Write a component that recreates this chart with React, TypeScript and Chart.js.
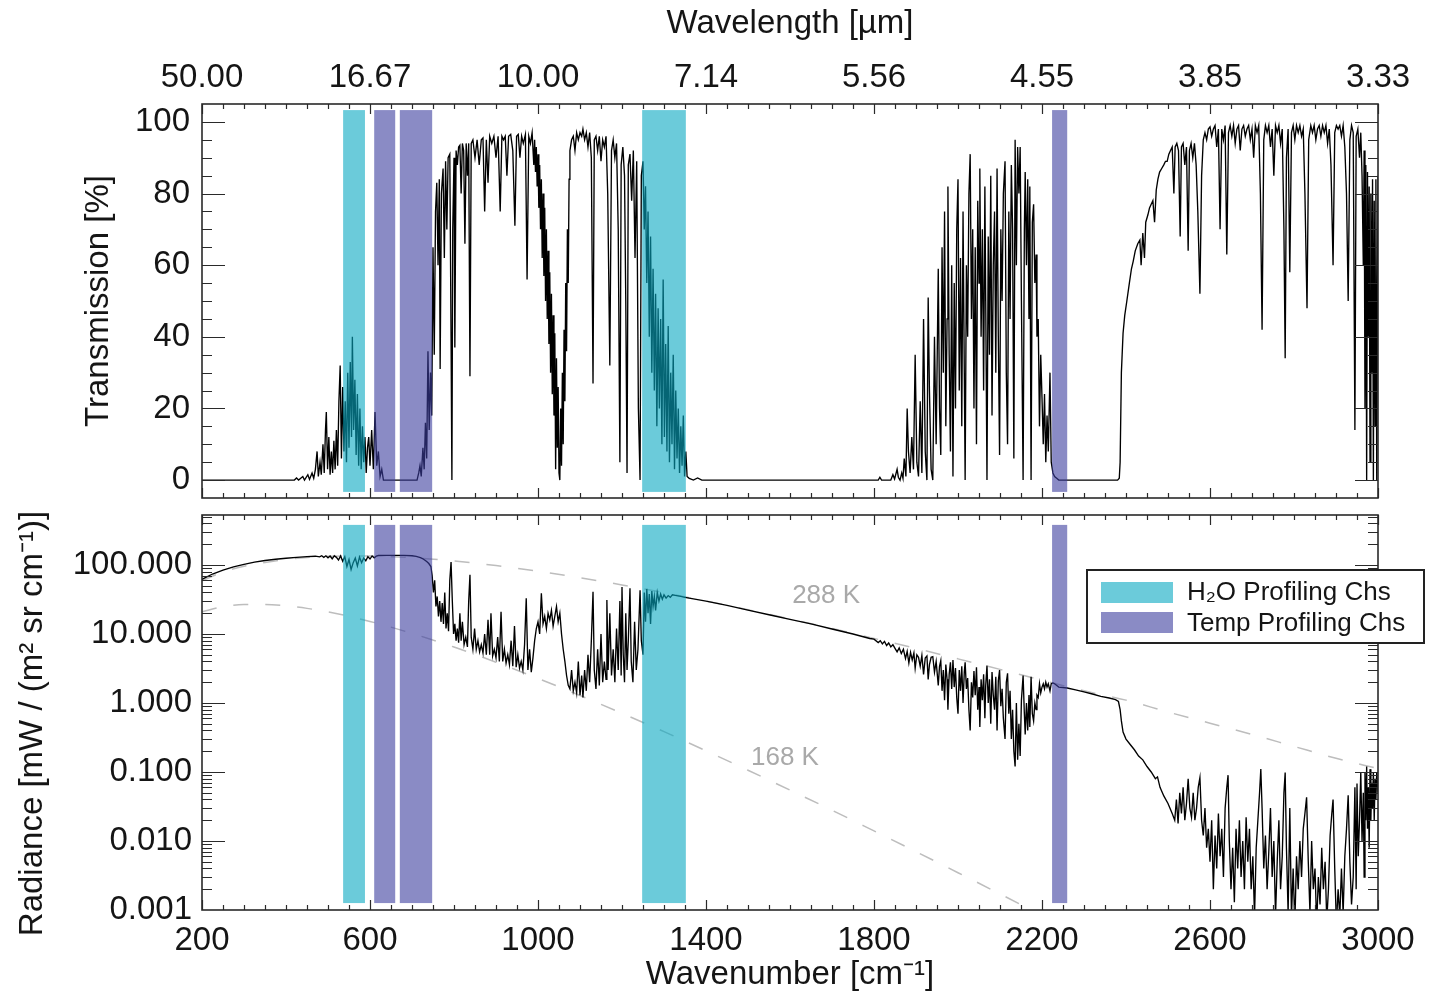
import React, { useEffect, useRef } from "react";
import { Chart, registerables } from "chart.js";

Chart.register(...registerables);

type Pair = [number, number];

const FONT = "'Liberation Sans', Arial, Helvetica, sans-serif";

// ---------- axis ticks / labels ----------
const X_TICKS = [200, 600, 1000, 1400, 1800, 2200, 2600, 3000];
const WAVELENGTH_LABELS = ["50.00", "16.67", "10.00", "7.14", "5.56", "4.55", "3.85", "3.33"];
const T_TICKS = [0, 20, 40, 60, 80, 100];
const R_TICKS = [0.001, 0.01, 0.1, 1, 10, 100];
const R_TICK_LABELS = ["0.001", "0.010", "0.100", "1.000", "10.000", "100.000"];
const RADIANCE_TITLE = "Radiance [mW / (m\u00b2 sr cm\u207b\u00b9)]";

// ---------- channel bands (wavenumber ranges, cm-1) ----------
const H2O_BANDS: Pair[] = [[536, 588], [1248, 1352]];
const TEMP_BANDS: Pair[] = [[610, 660], [671, 748], [2224, 2260]];
const LEGEND_LABELS = ["H\u2082O Profiling Chs", "Temp Profiling Chs"];

// ---------- transmission [%] vs wavenumber ----------
const TRANS_FAR_IR: Pair[] = [
  [200, 0], [300, 0], [400, 0], [420, 0], [425, 0.6], [430, 0], [440, 1], [444, 0], [452, 1.5], [456, 0.2],
  [462, 2], [466, 0.5], [470, 3], [474, 8], [477, 1], [481, 5], [484, 1.5], [488, 10], [491, 2], [494, 14],
  [496, 19], [499, 3], [502, 12], [505, 1.5], [508, 8], [511, 2], [514, 11], [517, 3], [520, 14], [523, 4],
  [526, 22], [529, 32], [532, 6], [535, 26], [538, 8], [541, 22], [544, 5], [547, 30], [550, 9], [553, 33],
  [556, 12], [558, 40], [561, 14], [564, 28], [567, 7], [570, 24], [573, 4], [576, 20], [579, 3], [582, 15],
  [585, 5], [588, 12], [591, 2], [594, 9], [597, 12], [600, 4], [604, 14], [608, 3], [612, 19], [616, 4],
  [620, 8], [624, 1], [628, 3], [632, 0], [712, 0],
];
const TRANS_WINDOW: Pair[] = [
  [716, 2], [719, 4], [722, 1], [726, 9], [729, 3], [732, 16], [735, 6], [738, 36], [741, 14], [744, 30],
  [747, 18], [750, 65], [753, 35], [756, 75], [759, 83], [762, 60], [765, 84], [767, 31], [770, 80], [774, 87],
  [777, 62], [780, 89], [783, 70], [786, 90], [790, 91], [793, 40], [795, 0], [797, 70], [800, 90], [802, 37],
  [805, 92], [808, 88], [811, 93], [814, 93.5], [817, 80], [820, 94], [823, 92], [826, 66], [829, 94], [832, 85],
  [835, 94], [838, 29], [841, 94], [845, 95], [850, 90], [855, 95], [860, 88], [865, 95], [869, 95.5], [873, 75],
  [877, 95], [881, 83], [885, 96], [890, 94], [895, 96], [900, 90], [905, 96], [910, 75], [914, 96], [918, 95],
  [922, 96], [926, 85], [930, 96], [935, 96.5], [940, 92], [945, 71], [949, 96], [953, 96.5], [957, 90], [961, 96],
  [965, 94], [970, 96.5], [974, 56], [978, 96], [982, 94], [986, 97], [990, 88], [992, 95], [994, 86], [996, 93],
  [998, 82], [1000, 91], [1002, 76], [1004, 88], [1006, 70], [1008, 84], [1010, 62], [1012, 80], [1014, 57], [1016, 76],
  [1018, 50], [1020, 70], [1022, 45], [1024, 64], [1026, 38], [1028, 58], [1030, 30], [1032, 52], [1034, 24], [1036, 46],
  [1038, 18], [1040, 41], [1042, 3], [1044, 34], [1046, 9], [1048, 26], [1050, 2], [1052, 0], [1054, 20], [1056, 4],
  [1058, 30], [1060, 10], [1062, 42], [1064, 22], [1066, 55], [1068, 36], [1070, 70], [1072, 55], [1074, 84], [1076, 92],
  [1080, 95], [1084, 96], [1088, 92], [1092, 97], [1096, 95], [1100, 97], [1104, 96], [1107, 98],
  [1111, 95], [1115, 97], [1119, 93], [1123, 97], [1127, 90], [1131, 27], [1134, 95], [1138, 96], [1142, 92], [1146, 96],
  [1150, 89], [1154, 95], [1158, 93], [1162, 96], [1166, 80], [1171, 32], [1175, 92], [1179, 95], [1183, 90], [1187, 94],
  [1191, 70], [1195, 5], [1198, 88], [1202, 93], [1206, 85], [1209, 50], [1212, 2], [1215, 88], [1219, 91], [1223, 78],
  [1227, 92], [1231, 62], [1235, 89], [1239, 20], [1243, 0], [1246, 85], [1250, 89],
];
const TRANS_H2O: Pair[] = [
  [1253, 70], [1256, 82], [1259, 55], [1262, 75], [1265, 40], [1268, 68], [1271, 30], [1274, 59], [1277, 25], [1280, 52],
  [1283, 15], [1286, 48], [1289, 20], [1292, 45], [1295, 10], [1298, 56], [1301, 12], [1304, 38], [1307, 8], [1310, 43],
  [1313, 5], [1316, 30], [1319, 10], [1322, 35], [1325, 3], [1328, 25], [1331, 6], [1334, 20], [1337, 2], [1340, 15],
  [1343, 4], [1346, 18], [1349, 1], [1352, 8], [1355, 1], [1360, 0.5], [1370, 0], [1380, 0.6], [1390, 0], [1500, 0],
  [1700, 0], [1810, 0], [1814, 0.8], [1818, 0], [1840, 0], [1845, 1.5], [1849, 0.3], [1855, 3], [1858, 0.8],
];
const TRANS_CO: Pair[] = [
  [1862, 0], [1866, 2], [1869, 0.5], [1872, 6], [1876, 1], [1879, 20], [1882, 8], [1886, 2], [1890, 12], [1894, 3],
  [1898, 35], [1902, 5], [1906, 1], [1910, 22], [1914, 2], [1918, 45], [1922, 8], [1926, 0], [1929, 51], [1932, 25],
  [1936, 3], [1940, 0], [1944, 40], [1948, 10], [1953, 59], [1956, 20], [1959, 7], [1962, 65], [1965, 30], [1968, 75],
  [1971, 15], [1974, 45], [1976, 82], [1979, 35], [1982, 8], [1985, 60], [1988, 1], [1991, 55], [1994, 20], [1997, 70],
  [2000, 84], [2003, 25], [2006, 62], [2009, 15], [2012, 75], [2015, 30], [2017, 0], [2020, 60], [2023, 40], [2026, 80],
  [2029, 91], [2032, 45], [2035, 70], [2038, 20], [2041, 65], [2044, 10], [2047, 78], [2050, 55], [2052, 87], [2055, 40],
  [2058, 70], [2061, 25], [2064, 82], [2066, 50], [2069, 0], [2072, 68], [2075, 35], [2078, 85], [2081, 18], [2084, 60],
  [2087, 75], [2090, 30], [2093, 87], [2096, 40], [2099, 7], [2102, 70], [2105, 50], [2108, 80], [2112, 89], [2115, 30],
  [2118, 10], [2121, 75], [2124, 45], [2127, 88], [2130, 70], [2133, 6], [2136, 95], [2139, 60], [2142, 93], [2145, 80],
  [2148, 93], [2151, 50], [2155, 0], [2158, 70], [2160, 86], [2163, 60], [2166, 84], [2169, 45], [2171, 82], [2174, 0],
  [2177, 72], [2180, 77], [2183, 55], [2186, 63], [2188, 40], [2191, 45], [2194, 15], [2197, 35], [2200, 23], [2203, 10],
  [2206, 24], [2209, 5], [2212, 18], [2215, 8], [2219, 30], [2222, 5], [2226, 2], [2230, 1], [2235, 0.5], [2240, 0],
];
const TRANS_SWIR: Pair[] = [
  [2380, 0], [2384, 0.5], [2386, 5], [2389, 30], [2393, 41], [2397, 46], [2402, 50], [2408, 55], [2413, 59], [2417, 61],
  [2422, 64], [2428, 66], [2433, 67], [2436, 60], [2440, 69], [2444, 62], [2447, 72], [2452, 74], [2456, 76], [2460, 77],
  [2464, 78], [2468, 72], [2472, 81], [2476, 84], [2480, 86], [2485, 87], [2490, 88], [2494, 89], [2498, 89], [2502, 91],
  [2506, 92], [2510, 93], [2514, 80], [2517, 93], [2521, 94], [2525, 92], [2529, 68], [2532, 93], [2536, 94], [2540, 88],
  [2544, 93], [2548, 64], [2551, 92], [2555, 94], [2559, 90], [2563, 94], [2567, 88], [2571, 75], [2576, 52], [2580, 85],
  [2584, 95], [2588, 97], [2592, 95], [2596, 98], [2600, 98.6], [2604, 96], [2608, 98], [2612, 99], [2616, 93], [2620, 98],
  [2624, 70], [2628, 98], [2632, 95], [2636, 99], [2640, 63], [2644, 97], [2648, 99], [2652, 96], [2656, 99], [2660, 94],
  [2664, 98], [2668, 99], [2672, 92], [2676, 98], [2680, 99], [2684, 96], [2688, 98], [2692, 99], [2696, 95], [2700, 98],
  [2704, 90], [2708, 99], [2712, 97], [2716, 99], [2720, 80], [2724, 42], [2728, 95], [2732, 99], [2736, 97], [2740, 99],
  [2744, 93], [2748, 98], [2752, 85], [2756, 99], [2760, 97], [2764, 99], [2768, 94], [2772, 98], [2776, 70], [2779, 34],
  [2782, 90], [2786, 98], [2790, 58], [2794, 97], [2798, 99], [2802, 95], [2806, 99], [2810, 97], [2814, 99], [2818, 96],
  [2822, 98], [2826, 80], [2831, 48], [2835, 95], [2840, 99], [2844, 97], [2848, 99], [2852, 95], [2856, 98], [2860, 99],
  [2864, 96], [2868, 99], [2872, 97], [2876, 99], [2880, 94], [2884, 98], [2888, 88], [2893, 60], [2897, 97], [2901, 99],
  [2905, 98], [2909, 99], [2913, 96], [2917, 99], [2921, 93], [2925, 80], [2929, 50], [2933, 95], [2937, 99], [2941, 97],
  [2945, 14], [2948, 96], [2952, 98], [2956, 90], [2959, 97], [2962, 85], [2965, 60], [2967, 92], [2969, 20], [2971, 88],
  [2973, 0], [2975, 86], [2977, 40], [2979, 82], [2981, 5], [2983, 80], [2985, 30], [2987, 84], [2989, 0], [2991, 78],
  [2993, 15], [2995, 84], [2997, 0], [3000, 85],
];

// ---------- radiance [mW/(m2 sr cm-1)] vs wavenumber ----------
const RAD_FAR_IR: Pair[] = [
  [200, 62], [225, 74], [250, 84], [275, 94], [300, 102], [325, 110], [350, 116], [375, 121], [400, 125], [425, 129],
  [450, 132], [470, 134], [480, 131], [485, 136], [490, 129], [495, 136], [500, 127], [505, 135], [510, 123], [515, 136],
  [520, 129], [525, 118], [530, 135], [535, 113], [540, 132], [545, 95], [550, 120], [555, 86], [560, 108], [565, 126],
  [570, 97], [575, 130], [580, 108], [585, 126], [590, 115], [595, 132], [600, 122], [605, 135], [610, 127], [615, 134],
  [620, 137], [640, 138], [660, 138], [680, 138], [700, 136], [710, 133], [720, 128], [725, 124], [730, 118], [735, 112],
  [740, 105],
];
const RAD_WINDOW: Pair[] = [
  [745, 95], [748, 70], [751, 40], [754, 60], [757, 25], [760, 35], [763, 18], [766, 30], [769, 15], [772, 28],
  [775, 14], [778, 40], [781, 12], [784, 20], [787, 11], [790, 60], [793, 110], [796, 30], [799, 10], [802, 14],
  [805, 8], [808, 12], [811, 7.5], [814, 20], [817, 8], [820, 15], [824, 7], [828, 9], [832, 6.5], [835, 30],
  [838, 72], [841, 9], [845, 6], [849, 12], [853, 6], [857, 8], [861, 5.5], [865, 7], [869, 5.3], [873, 10],
  [877, 5], [881, 16], [885, 5], [888, 20], [892, 4.8], [896, 6], [900, 4.5], [904, 9], [908, 4], [912, 21],
  [916, 4], [920, 6], [924, 3.8], [928, 5], [932, 3.6], [936, 8], [940, 3.4], [944, 13], [948, 3.3], [952, 5],
  [956, 3.2], [960, 4], [964, 3], [968, 7], [972, 33], [976, 3], [980, 6], [984, 2.8], [988, 4.5], [992, 8],
  [996, 12], [1000, 15], [1004, 10], [1008, 39], [1012, 14], [1016, 18], [1020, 12], [1024, 20], [1028, 16], [1032, 22],
  [1036, 13], [1040, 18], [1044, 25], [1048, 15], [1052, 20], [1056, 10], [1060, 6], [1064, 4], [1068, 2.5], [1072, 1.8],
  [1076, 1.6], [1080, 3], [1084, 1.5], [1088, 2], [1092, 1.4], [1096, 4], [1100, 1.3], [1104, 2.5], [1107, 1.2], [1111, 3],
  [1115, 1.5], [1119, 5], [1123, 2], [1127, 8], [1131, 41], [1134, 3], [1138, 1.6], [1142, 6], [1146, 1.8], [1150, 10],
  [1154, 2], [1158, 4], [1162, 2.2], [1164, 31], [1167, 3], [1171, 20], [1175, 2.5], [1179, 6], [1183, 2], [1187, 12],
  [1191, 3], [1195, 30], [1198, 2.5], [1200, 48], [1203, 5], [1206, 2], [1209, 20], [1212, 3], [1215, 8], [1219, 46],
  [1222, 4], [1226, 2], [1230, 15], [1234, 3], [1238, 6], [1243, 43], [1246, 8], [1250, 5],
];
const RAD_MID: Pair[] = [
  [1253, 40], [1256, 15], [1259, 45], [1262, 20], [1265, 38], [1268, 14], [1271, 42], [1274, 25], [1277, 35], [1280, 22],
  [1284, 40], [1288, 30], [1292, 38], [1296, 32], [1300, 37], [1305, 33], [1310, 36], [1315, 34], [1320, 37], [1330, 36],
  [1340, 35], [1350, 34], [1360, 33], [1400, 30], [1450, 26], [1500, 22.2], [1550, 19], [1600, 16.3], [1650, 14], [1700, 11.8],
  [1750, 10], [1790, 8.6], [1800, 8.4],
];
const RAD_CO: Pair[] = [
  [1810, 7.5], [1815, 8.0], [1820, 7.2], [1825, 7.8], [1830, 6.8], [1835, 7.4], [1840, 6.5], [1845, 7.0], [1850, 6.2], [1855, 5.5],
  [1860, 6.3], [1865, 5.2], [1870, 6.0], [1875, 4.4], [1879, 5.6], [1883, 3.8], [1887, 5.4], [1891, 4.2], [1895, 5.3], [1898, 3.2],
  [1902, 5.0], [1906, 4.6], [1910, 3.4], [1914, 4.9], [1918, 2.6], [1922, 4.5], [1926, 4.8], [1929, 2.2], [1932, 3.6], [1936, 4.6],
  [1940, 4.7], [1944, 2.8], [1948, 4.0], [1953, 1.8], [1956, 3.4], [1959, 4.1], [1962, 1.5], [1965, 3.0], [1968, 1.1], [1971, 3.6],
  [1974, 2.2], [1976, 0.8], [1979, 2.6], [1982, 3.9], [1985, 1.6], [1988, 4.2], [1991, 1.7], [1994, 3.2], [1997, 1.2], [2000, 0.7],
  [2003, 3.0], [2006, 1.5], [2009, 3.4], [2012, 1.0], [2015, 2.8], [2017, 3.9], [2020, 1.6], [2023, 2.3], [2026, 0.8], [2029, 0.4],
  [2032, 2.0], [2035, 1.2], [2038, 2.9], [2041, 1.3], [2044, 3.3], [2047, 0.8], [2050, 1.7], [2052, 0.45], [2055, 2.2], [2058, 1.1],
  [2061, 2.6], [2064, 0.6], [2066, 1.8], [2069, 3.5], [2072, 1.0], [2075, 2.2], [2078, 0.5], [2081, 2.8], [2084, 1.3], [2087, 0.8],
  [2090, 2.4], [2093, 0.4], [2096, 2.1], [2099, 3.0], [2102, 0.9], [2105, 1.6], [2108, 0.6], [2112, 0.3], [2115, 2.0], [2118, 2.7],
  [2121, 0.7], [2124, 1.5], [2127, 0.3], [2130, 0.8], [2133, 0.2], [2136, 0.12], [2139, 1.0], [2142, 0.15], [2145, 0.5], [2148, 0.17],
  [2151, 1.1], [2155, 2.5], [2158, 0.7], [2160, 0.35], [2163, 1.0], [2166, 0.4], [2169, 1.3], [2171, 0.45], [2174, 2.4], [2177, 0.7],
  [2180, 0.55], [2183, 1.0], [2186, 0.8], [2188, 1.3], [2191, 1.2], [2194, 1.9], [2197, 1.4], [2200, 1.7], [2203, 1.9], [2206, 1.6],
  [2209, 2.0], [2212, 1.7], [2215, 1.9], [2219, 1.5], [2222, 1.9], [2226, 1.95], [2230, 1.9], [2240, 1.7], [2260, 1.65], [2280, 1.55],
  [2300, 1.45], [2320, 1.35], [2340, 1.25], [2360, 1.18], [2375, 1.12], [2382, 1.05],
];
const RAD_SWIR: Pair[] = [
  [2386, 0.8], [2389, 0.55], [2393, 0.38], [2400, 0.3], [2410, 0.25], [2420, 0.21], [2430, 0.17], [2440, 0.15], [2450, 0.12], [2460, 0.1],
  [2470, 0.08], [2475, 0.085], [2481, 0.06], [2490, 0.045], [2500, 0.035], [2510, 0.025], [2516, 0.02], [2520, 0.04], [2524, 0.018], [2528, 0.05],
  [2532, 0.025], [2536, 0.06], [2540, 0.02], [2544, 0.035], [2548, 0.08], [2552, 0.03], [2556, 0.022], [2560, 0.05], [2564, 0.02], [2568, 0.03],
  [2572, 0.06], [2576, 0.083], [2580, 0.02], [2584, 0.012], [2588, 0.03], [2592, 0.008], [2596, 0.015], [2600, 0.005], [2604, 0.02], [2608, 0.002],
  [2612, 0.012], [2616, 0.004], [2620, 0.025], [2624, 0.006], [2628, 0.015], [2632, 0.003], [2636, 0.03], [2640, 0.06], [2643, 0.09], [2646, 0.01],
  [2650, 0.002], [2654, 0.008], [2658, 0.0013], [2662, 0.015], [2666, 0.004], [2670, 0.02], [2674, 0.003], [2678, 0.01], [2682, 0.002], [2686, 0.022],
  [2690, 0.005], [2694, 0.015], [2698, 0.002], [2702, 0.006], [2706, 0.0008], [2710, 0.008], [2714, 0.02], [2718, 0.05], [2721, 0.11], [2724, 0.03],
  [2728, 0.004], [2732, 0.012], [2736, 0.002], [2740, 0.007], [2744, 0.03], [2748, 0.003], [2752, 0.01], [2756, 0.0008], [2760, 0.005], [2764, 0.02],
  [2768, 0.002], [2772, 0.006], [2776, 0.05], [2779, 0.098], [2782, 0.008], [2786, 0.0009], [2790, 0.03], [2794, 0.0008], [2798, 0.004], [2802, 0.0006],
  [2806, 0.006], [2810, 0.002], [2814, 0.01], [2818, 0.003], [2822, 0.015], [2826, 0.025], [2830, 0.043], [2834, 0.005], [2838, 0.0009], [2842, 0.01],
  [2846, 0.002], [2850, 0.004], [2854, 0.0006], [2858, 0.003], [2862, 0.0012], [2866, 0.008], [2870, 0.002], [2874, 0.005], [2878, 0.0007], [2882, 0.002],
  [2886, 0.012], [2890, 0.025], [2893, 0.04], [2897, 0.004], [2901, 0.0006], [2905, 0.002], [2909, 0.0008], [2913, 0.004], [2917, 0.0009], [2921, 0.006],
  [2925, 0.015], [2929, 0.046], [2933, 0.005], [2937, 0.0012], [2941, 0.003], [2945, 0.06], [2948, 0.002], [2950, 0.068], [2953, 0.006], [2956, 0.02],
  [2959, 0.1], [2962, 0.01], [2965, 0.05], [2967, 0.003], [2969, 0.1], [2971, 0.02], [2973, 0.12], [2975, 0.015], [2977, 0.06], [2979, 0.008],
  [2981, 0.11], [2983, 0.02], [2985, 0.07], [2987, 0.03], [2989, 0.1], [2991, 0.02], [2993, 0.08], [2995, 0.04], [2997, 0.1], [3000, 0.05],
];

// ---------- blackbody reference curves (dashed) ----------
const BB_288K: Pair[] = [
  [200, 59], [250, 79], [300, 96], [350, 109], [400, 120], [450, 128], [500, 133.4], [550, 135.5], [600, 135.2], [650, 132],
  [700, 127.6], [800, 114.2], [900, 97.9], [1000, 81.1], [1100, 65.4], [1200, 51.4], [1300, 39.6], [1400, 30], [1500, 22.4], [1600, 16.5],
  [1700, 12], [1800, 8.63], [1900, 6.17], [2000, 4.36], [2100, 3.07], [2200, 2.14], [2300, 1.5], [2400, 1.1], [2500, 0.74], [2600, 0.51],
  [2700, 0.35], [2800, 0.235], [2900, 0.158], [3000, 0.112],
];
const BB_168K: Pair[] = [
  [200, 21], [250, 24.8], [300, 26.7], [350, 26.8], [400, 25.6], [450, 23.5], [500, 20.9], [600, 15.2], [700, 10.2], [800, 6.46],
  [900, 3.9], [1000, 2.27], [1100, 1.285], [1200, 0.708], [1300, 0.384], [1400, 0.203], [1500, 0.106], [1600, 0.0546], [1700, 0.0279], [1800, 0.014],
  [1900, 0.007], [2000, 0.00347], [2100, 0.00171], [2200, 0.00083], [2300, 0.0004],
];
const BB_LABELS = [
  { text: "288 K", x: 1686, y: 35.5 },
  { text: "168 K", x: 1588, y: 0.158 },
];

const TRANS_SEGMENTS = [TRANS_FAR_IR, TRANS_WINDOW, TRANS_H2O, TRANS_CO, TRANS_SWIR];
const RAD_SEGMENTS = [RAD_FAR_IR, RAD_WINDOW, RAD_MID, RAD_CO, RAD_SWIR];

// ---------- styles ----------
const H2O_FILL = "rgba(8,168,193,0.6)";
const TEMP_FILL = "rgba(60,62,158,0.6)";
const TEXT_COLOR = "#151515";
const FRAME_COLOR = "#2a2a2a";
const BB_COLOR = "#bdbdbd";
const TICK_FONT = { family: FONT, size: 33 };
const TITLE_FONT = { family: FONT, size: 33 };

const toXY = (segs: Pair[][]) => segs.flat().map(([x, y]) => ({ x, y }));

type YTick = { v: number; major: boolean };

function linearYTicks(): YTick[] {
  const out: YTick[] = [];
  for (let v = 0; v <= 100; v += 5) out.push({ v, major: v % 20 === 0 });
  return out;
}
function logYTicks(max: number): YTick[] {
  const out: YTick[] = [];
  R_TICKS.forEach((d) => {
    out.push({ v: d, major: true });
    for (let k = 2; k <= 9; k++) if (k * d <= max) out.push({ v: k * d, major: false });
  });
  return out;
}

function bandsPlugin(yLow: number, yHigh: number) {
  return {
    id: "bands",
    afterDatasetsDraw(chart: any) {
      const { ctx } = chart;
      const xs = chart.scales.x;
      const ys = chart.scales.y;
      const top = ys.getPixelForValue(yHigh);
      const bot = ys.getPixelForValue(yLow);
      ctx.save();
      const draw = (bands: Pair[], color: string) => {
        ctx.fillStyle = color;
        bands.forEach(([a, b]) => {
          const l = xs.getPixelForValue(a);
          const r = xs.getPixelForValue(b);
          ctx.fillRect(l, top, r - l, bot - top);
        });
      };
      draw(H2O_BANDS, H2O_FILL);
      draw(TEMP_BANDS, TEMP_FILL);
      ctx.restore();
    },
  };
}

function framePlugin(yTicks: YTick[]) {
  return {
    id: "frame",
    afterDraw(chart: any) {
      const { ctx, chartArea: a } = chart;
      const xs = chart.scales.x;
      const ys = chart.scales.y;
      ctx.save();
      ctx.strokeStyle = FRAME_COLOR;
      ctx.lineWidth = 1.2;
      ctx.beginPath();
      for (let v = 200; v <= 3000; v += 50) {
        const px = Math.round(xs.getPixelForValue(v)) + 0.5;
        const len = (v - 200) % 400 === 0 ? 10 : 5;
        ctx.moveTo(px, a.bottom);
        ctx.lineTo(px, a.bottom - len);
        ctx.moveTo(px, a.top);
        ctx.lineTo(px, a.top + len);
      }
      yTicks.forEach(({ v, major }) => {
        const py = Math.round(ys.getPixelForValue(v)) + 0.5;
        if (py < a.top || py > a.bottom) return;
        const len = major ? 23 : 10;
        ctx.moveTo(a.left, py);
        ctx.lineTo(a.left + len, py);
        ctx.moveTo(a.right, py);
        ctx.lineTo(a.right - len, py);
      });
      ctx.stroke();
      ctx.lineWidth = 1.6;
      ctx.strokeRect(a.left, a.top, a.right - a.left, a.bottom - a.top);
      ctx.restore();
    },
  };
}

const annotationPlugin = {
  id: "bbLabels",
  afterDatasetsDraw(chart: any) {
    const { ctx } = chart;
    const xs = chart.scales.x;
    const ys = chart.scales.y;
    ctx.save();
    ctx.fillStyle = "#a9a9a9";
    ctx.font = `26px ${FONT}`;
    ctx.textAlign = "center";
    ctx.textBaseline = "middle";
    BB_LABELS.forEach((l) => ctx.fillText(l.text, xs.getPixelForValue(l.x), ys.getPixelForValue(l.y)));
    ctx.restore();
  },
};

// y-axis title for the radiance panel, centred a little below the panel middle as in the original
const radianceTitlePlugin = {
  id: "radianceTitle",
  afterDraw(chart: any) {
    const { ctx, chartArea: a } = chart;
    ctx.save();
    ctx.translate(33, (a.top + a.bottom) / 2 + 11);
    ctx.rotate(-Math.PI / 2);
    ctx.fillStyle = TEXT_COLOR;
    ctx.font = `33px ${FONT}`;
    ctx.textAlign = "center";
    ctx.textBaseline = "middle";
    ctx.fillText(RADIANCE_TITLE, 0, 0);
    ctx.restore();
  },
};

const legendPlugin = {
  id: "bandLegend",
  afterDraw(chart: any) {
    const { ctx, chartArea: a } = chart;
    const lx = a.right - 291;
    const ly = a.top + 55;
    ctx.save();
    ctx.fillStyle = "#ffffff";
    ctx.fillRect(lx, ly, 337, 73);
    ctx.strokeStyle = "#222";
    ctx.lineWidth = 2;
    ctx.strokeRect(lx, ly, 337, 73);
    const fills = [H2O_FILL, TEMP_FILL];
    ctx.font = `26px ${FONT}`;
    ctx.textBaseline = "middle";
    ctx.textAlign = "left";
    LEGEND_LABELS.forEach((label, i) => {
      ctx.fillStyle = fills[i];
      ctx.fillRect(lx + 14, ly + 12 + i * 30, 72, 21);
      ctx.fillStyle = TEXT_COLOR;
      ctx.fillText(label, lx + 100, ly + 23 + i * 31);
    });
    ctx.restore();
  },
};

const fixWidth = (w: number) => (s: any) => {
  s.width = w;
  s.paddingTop = 0;
  s.paddingBottom = 0;
};
const fixHeight = (h: number) => (s: any) => {
  s.height = h;
  s.paddingLeft = 0;
  s.paddingRight = 0;
};

function topConfig(): any {
  return {
    type: "line",
    data: {
      datasets: [
        {
          data: toXY(TRANS_SEGMENTS),
          borderColor: "#000",
          borderWidth: 1.35,
          pointRadius: 0,
          tension: 0,
          fill: false,
        },
      ],
    },
    options: {
      responsive: false,
      maintainAspectRatio: false,
      animation: false,
      devicePixelRatio: 1,
      events: [],
      layout: { padding: { top: 0, right: 63, bottom: 9, left: 0 } },
      plugins: { legend: { display: false }, tooltip: { enabled: false } },
      scales: {
        x: { type: "linear", min: 200, max: 3000, display: false },
        x2: {
          type: "linear",
          axis: "x",
          position: "top",
          min: 200,
          max: 3000,
          grid: { display: false, drawTicks: false },
          border: { display: false },
          afterBuildTicks: (s: any) => {
            s.ticks = X_TICKS.map((v) => ({ value: v }));
          },
          afterFit: fixHeight(104),
          ticks: {
            autoSkip: false,
            maxRotation: 0,
            padding: 6,
            font: TICK_FONT,
            color: TEXT_COLOR,
            callback: (_v: any, i: number) => WAVELENGTH_LABELS[i],
          },
          title: {
            display: true,
            text: "Wavelength [\u00b5m]",
            font: TITLE_FONT,
            color: TEXT_COLOR,
            padding: { top: 4, bottom: 0 },
          },
        },
        y: {
          type: "linear",
          position: "left",
          min: -5,
          max: 105,
          grid: { display: false, drawTicks: false },
          border: { display: false },
          afterBuildTicks: (s: any) => {
            s.ticks = T_TICKS.map((v) => ({ value: v }));
          },
          afterFit: fixWidth(202),
          ticks: { padding: 12, font: TICK_FONT, color: TEXT_COLOR, callback: (v: any) => String(v) },
          title: {
            display: true,
            text: "Transmission [%]",
            font: TITLE_FONT,
            color: TEXT_COLOR,
            padding: { top: 79, bottom: 0 },
          },
        },
      },
    },
    plugins: [bandsPlugin(-3.3, 103.3), framePlugin(linearYTicks())],
  };
}

const R_MAX = 530;

function bottomConfig(): any {
  return {
    type: "line",
    data: {
      datasets: [
        {
          data: toXY(RAD_SEGMENTS),
          borderColor: "#000",
          borderWidth: 1.35,
          pointRadius: 0,
          tension: 0,
          fill: false,
        },
        {
          data: toXY([BB_288K]),
          borderColor: BB_COLOR,
          borderWidth: 1.5,
          borderDash: [15, 17],
          pointRadius: 0,
          cubicInterpolationMode: "monotone",
          fill: false,
        },
        {
          data: toXY([BB_168K]),
          borderColor: BB_COLOR,
          borderWidth: 1.5,
          borderDash: [15, 17],
          pointRadius: 0,
          cubicInterpolationMode: "monotone",
          fill: false,
        },
      ],
    },
    options: {
      responsive: false,
      maintainAspectRatio: false,
      animation: false,
      devicePixelRatio: 1,
      events: [],
      layout: { padding: { top: 8, right: 63, bottom: 0, left: 0 } },
      plugins: { legend: { display: false }, tooltip: { enabled: false } },
      scales: {
        x: {
          type: "linear",
          position: "bottom",
          min: 200,
          max: 3000,
          grid: { display: false, drawTicks: false },
          border: { display: false },
          afterBuildTicks: (s: any) => {
            s.ticks = X_TICKS.map((v) => ({ value: v }));
          },
          afterFit: fixHeight(89),
          ticks: {
            autoSkip: false,
            maxRotation: 0,
            padding: 11,
            font: TICK_FONT,
            color: TEXT_COLOR,
            callback: (v: any) => String(v),
          },
          title: {
            display: true,
            text: "Wavenumber [cm\u207b\u00b9]",
            font: TITLE_FONT,
            color: TEXT_COLOR,
            padding: { top: 0, bottom: 4 },
          },
        },
        y: {
          type: "logarithmic",
          position: "left",
          min: 0.001,
          max: R_MAX,
          grid: { display: false, drawTicks: false },
          border: { display: false },
          afterBuildTicks: (s: any) => {
            s.ticks = R_TICKS.map((v) => ({ value: v }));
          },
          afterFit: fixWidth(202),
          ticks: {
            autoSkip: false,
            padding: 10,
            font: TICK_FONT,
            color: TEXT_COLOR,
            callback: (_v: any, i: number) => R_TICK_LABELS[i],
          },
          title: { display: false },
        },
      },
    },
    plugins: [
      bandsPlugin(0.00126, 381),
      annotationPlugin,
      framePlugin(logYTicks(R_MAX)),
      legendPlugin,
      radianceTitlePlugin,
    ],
  };
}

export default function App() {
  const topRef = useRef<HTMLCanvasElement>(null);
  const botRef = useRef<HTMLCanvasElement>(null);

  useEffect(() => {
    const charts: Chart[] = [];
    if (topRef.current) charts.push(new Chart(topRef.current, topConfig()));
    if (botRef.current) charts.push(new Chart(botRef.current, bottomConfig()));
    return () => charts.forEach((c) => c.destroy());
  }, []);

  return (
    <div style={{ position: "absolute", left: 0, top: 0, width: 1441, height: 999, background: "#fff" }}>
      <canvas
        ref={topRef}
        width={1441}
        height={507}
        style={{ position: "absolute", left: 0, top: 0, width: 1441, height: 507 }}
      />
      <canvas
        ref={botRef}
        width={1441}
        height={492}
        style={{ position: "absolute", left: 0, top: 507, width: 1441, height: 492 }}
      />
    </div>
  );
}
